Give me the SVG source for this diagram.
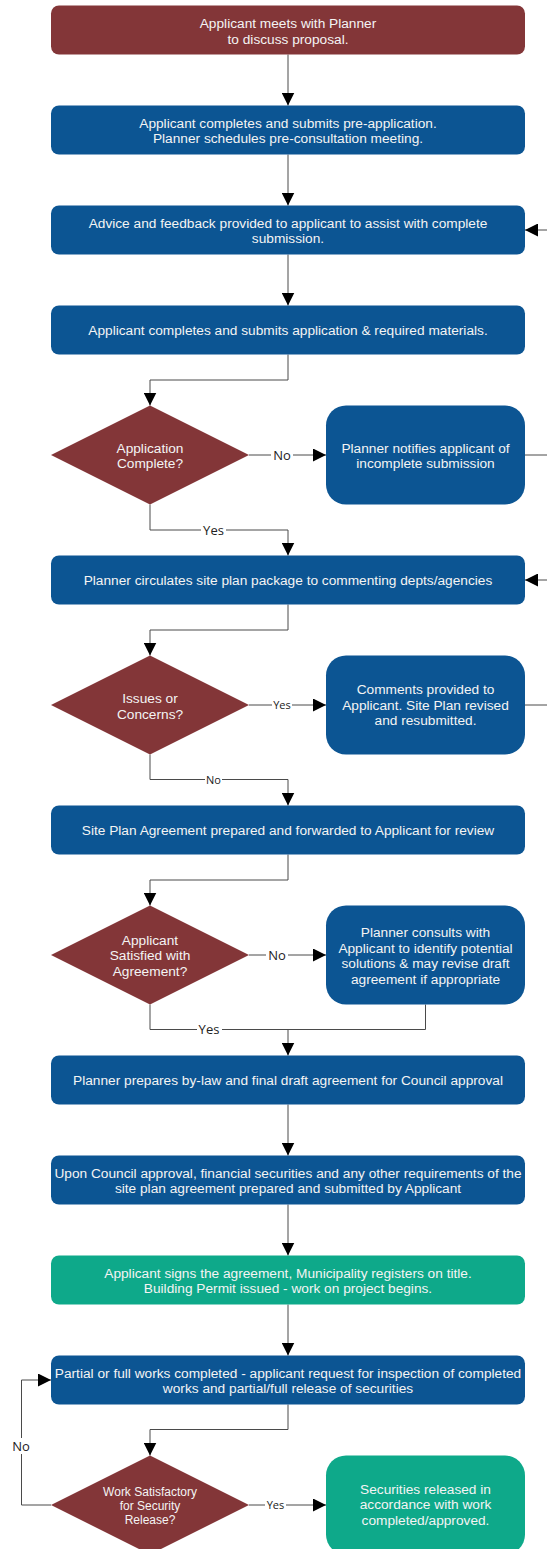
<svg xmlns="http://www.w3.org/2000/svg" width="547" height="1549" viewBox="0 0 547 1549">
  <style>
    .red { fill: #833638; }
    .blue { fill: #0C5593; }
    .green { fill: #0EA98A; }
    .t { font-family: "Liberation Sans", Arial, sans-serif; font-size: 13.7px; fill: #F4F4F4; text-anchor: middle; }
    .ts { font-family: "Liberation Sans", Arial, sans-serif; font-size: 12px; fill: #F4F4F4; text-anchor: middle; }
    .wire { fill: none; stroke: #4A4A4A; stroke-width: 1; }
    .lbl { font-family: "Open Sans", "DejaVu Sans", sans-serif; font-size: 13px; fill: #222222; text-anchor: middle; }
    .lbls { font-family: "Open Sans", "DejaVu Sans", sans-serif; font-size: 11px; fill: #222222; text-anchor: middle; }
    .bg { fill: #FFFFFF; }
  </style>
  <defs>
    <marker id="ah" markerWidth="13" markerHeight="13" refX="13" refY="6.5" orient="auto" markerUnits="userSpaceOnUse">
      <path d="M0,0 L13,6.5 L0,13 z" fill="#000"/>
    </marker>
  </defs>
  <rect width="547" height="1549" fill="#FFFFFF"/>

  <g id="connectors">
    <path class="wire" d="M288,54.5 V105.5" marker-end="url(#ah)"/>
    <path class="wire" d="M288,154.5 V205.5" marker-end="url(#ah)"/>
    <path class="wire" d="M288,254.5 V305.5" marker-end="url(#ah)"/>
    <path class="wire" d="M288,354.5 V380 H150 V405.5" marker-end="url(#ah)"/>
    <path class="wire" d="M249,455 H326" marker-end="url(#ah)"/>
    <path class="wire" d="M525,455 H560 V230 H525" marker-end="url(#ah)"/>
    <path class="wire" d="M150,504.5 V530 H288 V555.5" marker-end="url(#ah)"/>
    <path class="wire" d="M288,604.5 V630 H150 V655.5" marker-end="url(#ah)"/>
    <path class="wire" d="M249,705 H326" marker-end="url(#ah)"/>
    <path class="wire" d="M525,705 H560 V580 H525" marker-end="url(#ah)"/>
    <path class="wire" d="M150,754.5 V779.5 H288 V805.5" marker-end="url(#ah)"/>
    <path class="wire" d="M288,854.5 V880 H150 V905.5" marker-end="url(#ah)"/>
    <path class="wire" d="M249,955 H326" marker-end="url(#ah)"/>
    <path class="wire" d="M150,1004.5 V1029.5 H288 V1055.5" marker-end="url(#ah)"/>
    <path class="wire" d="M425.5,1004.5 V1029.5 H288"/>
    <path class="wire" d="M288,1104.5 V1155.5" marker-end="url(#ah)"/>
    <path class="wire" d="M288,1204.5 V1255.5" marker-end="url(#ah)"/>
    <path class="wire" d="M288,1304.5 V1355.5" marker-end="url(#ah)"/>
    <path class="wire" d="M288,1404.5 V1429.5 H150 V1455.5" marker-end="url(#ah)"/>
    <path class="wire" d="M51,1505 H21.5 V1380 H51" marker-end="url(#ah)"/>
    <path class="wire" d="M249,1505 H326" marker-end="url(#ah)"/>

    <!-- edge labels on white backing -->
    <rect class="bg" x="271" y="447" width="22" height="16"/>
    <text class="lbl" x="282" y="459.5">No</text>
    <rect class="bg" x="201" y="522" width="25" height="16"/>
    <text class="lbl" x="213.5" y="534.5">Yes</text>
    <rect class="bg" x="272" y="698" width="20" height="14"/>
    <text class="lbls" x="282" y="709">Yes</text>
    <rect class="bg" x="205" y="772" width="17" height="14"/>
    <text class="lbls" x="213.5" y="783.5">No</text>
    <rect class="bg" x="266" y="947" width="22" height="16"/>
    <text class="lbl" x="277" y="959.5">No</text>
    <rect class="bg" x="197" y="1021" width="25" height="16"/>
    <text class="lbl" x="209" y="1034">Yes</text>
    <rect class="bg" x="11" y="1438" width="21" height="16"/>
    <text class="lbl" x="21" y="1450.5">No</text>
    <rect class="bg" x="265" y="1498" width="21" height="14"/>
    <text class="lbls" x="275.5" y="1509">Yes</text>
  </g>

  <g id="meet-planner">
    <rect class="red" x="51" y="5.5" width="474" height="49" rx="8"/>
    <text class="t" x="288" y="28">Applicant meets with Planner</text>
    <text class="t" x="288" y="43.5">to discuss proposal.</text>
  </g>
  <g id="pre-application">
    <rect class="blue" x="51" y="105.5" width="474" height="49" rx="8"/>
    <text class="t" x="288" y="127.5">Applicant completes and submits pre-application.</text>
    <text class="t" x="288" y="143">Planner schedules pre-consultation meeting.</text>
  </g>
  <g id="advice-feedback">
    <rect class="blue" x="51" y="205.5" width="474" height="49" rx="8"/>
    <text class="t" x="288" y="227.5">Advice and feedback provided to applicant to assist with complete</text>
    <text class="t" x="288" y="243">submission.</text>
  </g>
  <g id="submit-application">
    <rect class="blue" x="51" y="305.5" width="474" height="49" rx="8"/>
    <text class="t" x="288" y="335">Applicant completes and submits application &amp; required materials.</text>
  </g>
  <g id="application-complete">
    <polygon class="red" points="51,455 150,405.5 249,455 150,504.5"/>
    <text class="t" x="150" y="452.5">Application</text>
    <text class="t" x="150" y="468">Complete?</text>
  </g>
  <g id="incomplete-notice">
    <rect class="blue" x="326" y="405.5" width="199" height="99" rx="20"/>
    <text class="t" x="425.5" y="452.5">Planner notifies applicant of</text>
    <text class="t" x="425.5" y="468">incomplete submission</text>
  </g>
  <g id="circulate-package">
    <rect class="blue" x="51" y="555.5" width="474" height="49" rx="8"/>
    <text class="t" x="288" y="585">Planner circulates site plan package to commenting depts/agencies</text>
  </g>
  <g id="issues-concerns">
    <polygon class="red" points="51,705 150,655.5 249,705 150,754.5"/>
    <text class="t" x="150" y="703">Issues or</text>
    <text class="t" x="150" y="718.5">Concerns?</text>
  </g>
  <g id="comments-provided">
    <rect class="blue" x="326" y="655.5" width="199" height="99" rx="20"/>
    <text class="t" x="425.5" y="694">Comments provided to</text>
    <text class="t" x="425.5" y="709.5">Applicant. Site Plan revised</text>
    <text class="t" x="425.5" y="725">and resubmitted.</text>
  </g>
  <g id="agreement-prepared">
    <rect class="blue" x="51" y="805.5" width="474" height="49" rx="8"/>
    <text class="t" x="288" y="835">Site Plan Agreement prepared and forwarded to Applicant for review</text>
  </g>
  <g id="applicant-satisfied">
    <polygon class="red" points="51,955 150,905.5 249,955 150,1004.5"/>
    <text class="t" x="150" y="944.5">Applicant</text>
    <text class="t" x="150" y="960">Satisfied with</text>
    <text class="t" x="150" y="975.5">Agreement?</text>
  </g>
  <g id="planner-consults">
    <rect class="blue" x="326" y="905.5" width="199" height="99" rx="20"/>
    <text class="t" x="425.5" y="937">Planner consults with</text>
    <text class="t" x="425.5" y="952.5">Applicant to identify potential</text>
    <text class="t" x="425.5" y="968">solutions &amp; may revise draft</text>
    <text class="t" x="425.5" y="983.5">agreement if appropriate</text>
  </g>
  <g id="bylaw-draft">
    <rect class="blue" x="51" y="1055.5" width="474" height="49" rx="8"/>
    <text class="t" x="288" y="1085">Planner prepares by-law and final draft agreement for Council approval</text>
  </g>
  <g id="council-approval">
    <rect class="blue" x="51" y="1155.5" width="474" height="49" rx="8"/>
    <text class="t" x="288" y="1177.5">Upon Council approval, financial securities and any other requirements of the</text>
    <text class="t" x="288" y="1193">site plan agreement prepared and submitted by Applicant</text>
  </g>
  <g id="agreement-signed">
    <rect class="green" x="51" y="1255.5" width="474" height="49" rx="8"/>
    <text class="t" x="288" y="1277.5">Applicant signs the agreement, Municipality registers on title.</text>
    <text class="t" x="288" y="1293">Building Permit issued - work on project begins.</text>
  </g>
  <g id="works-completed">
    <rect class="blue" x="51" y="1355.5" width="474" height="49" rx="8"/>
    <text class="t" x="288" y="1377.5">Partial or full works completed - applicant request for inspection of completed</text>
    <text class="t" x="288" y="1393">works and partial/full release of securities</text>
  </g>
  <g id="work-satisfactory">
    <polygon class="red" points="51,1505 150,1455.5 249,1505 150,1554.5"/>
    <text class="ts" x="150" y="1495.5">Work Satisfactory</text>
    <text class="ts" x="150" y="1509.5">for Security</text>
    <text class="ts" x="150" y="1523.5">Release?</text>
  </g>
  <g id="securities-released">
    <rect class="green" x="326" y="1455.5" width="199" height="99" rx="20"/>
    <text class="t" x="425.5" y="1493.5">Securities released in</text>
    <text class="t" x="425.5" y="1509">accordance with work</text>
    <text class="t" x="425.5" y="1524.5">completed/approved.</text>
  </g>
</svg>
